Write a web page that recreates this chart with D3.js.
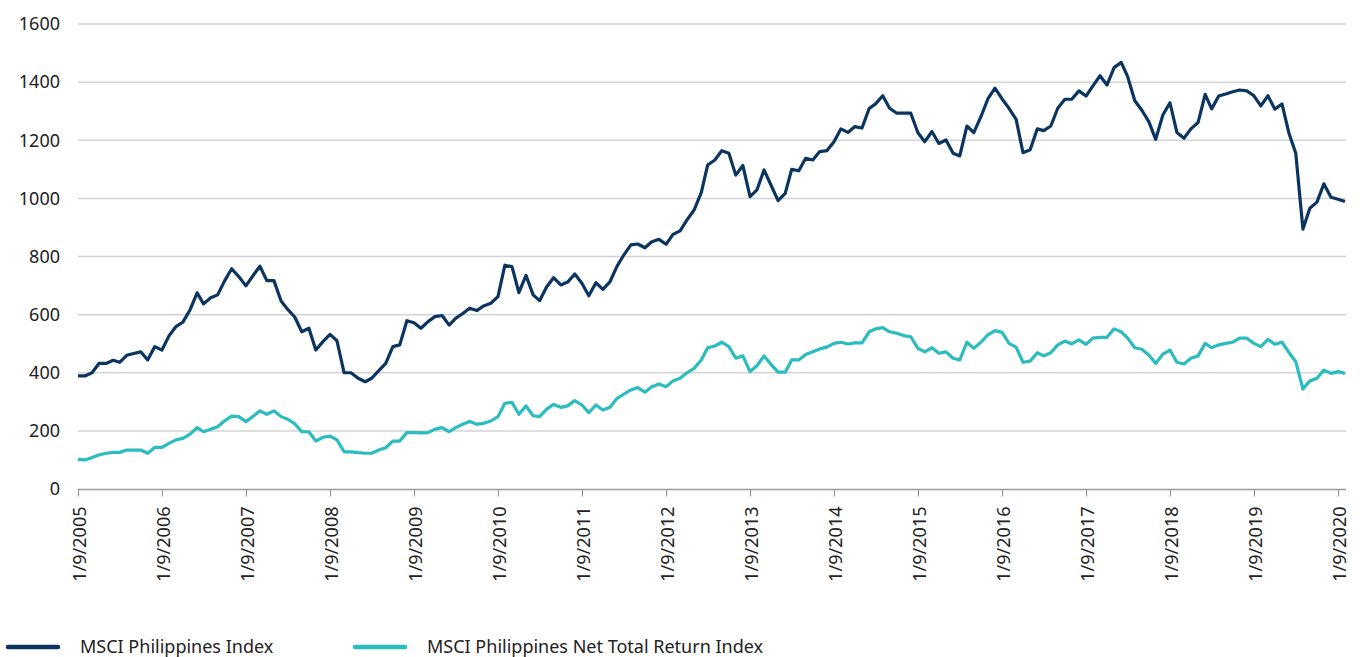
<!DOCTYPE html>
<html>
<head>
<meta charset="utf-8">
<script src="https://cdn.jsdelivr.net/npm/d3@7"></script>
<style>
 body{margin:0;background:#fff;}
 svg text{font-family:"Noto Sans",sans-serif;fill:#222;}
</style>
</head>
<body>
<svg id="chart" width="1360" height="657"></svg>
<script>
// monthly, Sep 2005 .. Oct 2020
const startMonth=[2005,8];
const seriesNames=["MSCI Philippines Index","MSCI Philippines Net Total Return Index"];
const seriesColors=["#0b3560","#2bbcbf"];
const yTicks=[0,200,400,600,800,1000,1200,1400,1600];

const msciIndex=[389,389,400,432,432,443,436,460,466,472,444,490,478,526,559,574,616,675,637,658,
 668,717,758,731,699,733,767,717,717,647,618,591,541,553,478,507,532,510,400,400,
 381,369,381,407,432,490,496,579,572,553,576,593,597,564,587,604,622,614,630,639,
 662,770,765,676,735,668,648,696,727,702,712,740,708,665,710,687,713,767,805,840,
 843,830,851,859,842,876,888,926,960,1020,1115,1132,1164,1155,1080,1113,1006,1029,1098,1046,
 992,1017,1100,1095,1138,1132,1161,1164,1195,1239,1227,1247,1242,1309,1325,1353,1310,1293,1293,1293,
 1226,1195,1230,1189,1201,1155,1146,1249,1226,1281,1342,1379,1342,1310,1272,1157,1167,1239,1233,1249,
 1310,1341,1341,1370,1352,1387,1422,1390,1450,1468,1419,1336,1304,1264,1203,1287,1329,1227,1207,1239,
 1261,1358,1308,1352,1359,1367,1373,1370,1353,1318,1353,1307,1325,1222,1155,894,966,987,1050,1004,
 997,989];

const msciNet=[102,100,108,117,123,126,126,134,134,134,123,143,143,157,169,174,189,211,197,206,
 214,235,251,249,232,249,269,257,269,249,240,224,197,197,165,178,182,169,128,128,
 125,123,123,134,142,165,165,194,194,193,194,206,211,197,211,223,232,223,226,234,
 249,295,298,257,286,252,249,275,291,281,286,304,289,263,289,272,281,312,326,341,
 349,333,352,361,352,372,381,400,415,444,486,492,505,490,450,458,404,424,458,429,
 402,402,444,444,463,472,482,488,501,505,499,503,503,541,551,555,541,536,528,524,
 484,472,486,467,472,450,444,505,484,505,530,545,539,501,488,436,440,469,458,469,
 496,509,499,513,498,519,522,522,551,541,519,486,481,461,432,464,478,436,430,450,
 458,501,486,496,501,505,519,519,501,490,515,498,505,469,438,344,372,381,409,398,
 404,398];

const dates=msciIndex.map((_,i)=>new Date(startMonth[0],startMonth[1]+i,1));
const series=[msciIndex,msciNet];

const svg=d3.select("#chart");
const x=d3.scaleTime().domain(d3.extent(dates)).range([78,1345]);
const y=d3.scaleLinear().domain([0,1600]).range([489,24]);

// grid
svg.append("g").selectAll("line")
 .data(yTicks.filter(d=>d>0)).enter().append("line")
 .attr("x1",78).attr("x2",1346)
 .attr("y1",d=>y(d)).attr("y2",d=>y(d))
 .attr("stroke","#d3d3d3").attr("stroke-width",1.5);

// y labels
svg.append("g").selectAll("text")
 .data(yTicks).enter().append("text")
 .attr("x",60).attr("y",d=>y(d)).attr("dy","0.35em")
 .attr("text-anchor","end").style("font-size","18px")
 .text(d=>d);

// x axis
const fmt=d=>`1/${d.getMonth()+1}/${d.getFullYear()}`;
const gx=svg.append("g").attr("transform","translate(0,489.5)")
 .call(d3.axisBottom(x).tickValues(dates.filter(d=>d.getMonth()===8)).tickFormat(fmt).tickSize(7).tickSizeOuter(0));
gx.select(".domain").attr("stroke","#999").attr("stroke-width",1.5)
 .attr("d","M78,0H1346");
gx.selectAll(".tick line").attr("stroke","#999").attr("stroke-width",1.2);
gx.selectAll(".tick text")
 .attr("transform","rotate(-90)")
 .attr("text-anchor","end")
 .attr("x",-17).attr("y",0).attr("dy","0.4em")
 .style("font-size","18px").style("fill","#222");

// lines
const line=d3.line().x((d,i)=>x(dates[i])).y(d=>y(d));
svg.append("g").selectAll("path")
 .data(series).enter().append("path")
 .attr("d",line)
 .attr("fill","none")
 .attr("stroke",(d,i)=>seriesColors[i])
 .attr("stroke-width",3.2)
 .attr("stroke-linejoin","round");

// legend
const legX=[8,355];
const lg=svg.append("g").selectAll("g")
 .data(seriesNames).enter().append("g")
 .attr("transform",(d,i)=>`translate(${legX[i]},647)`);
lg.append("line").attr("x1",0).attr("x2",50)
 .attr("stroke",(d,i)=>seriesColors[i]).attr("stroke-width",4.5).attr("stroke-linecap","round");
lg.append("text").attr("x",72).attr("dy","0.35em").style("font-size","18px").text(d=>d);
</script>
</body>
</html>
